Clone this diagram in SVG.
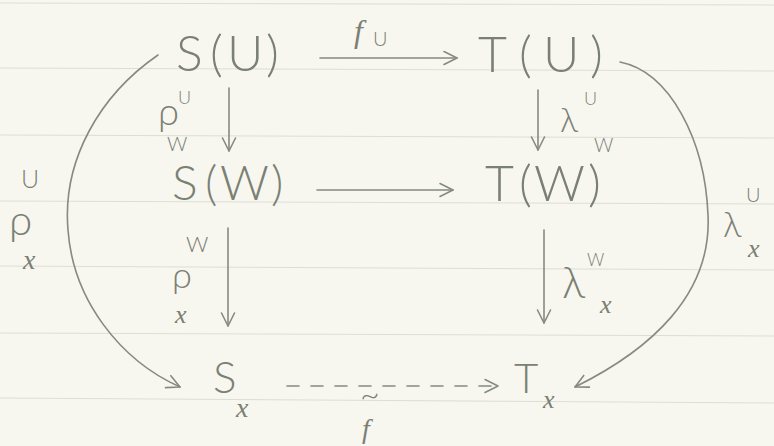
<svg xmlns="http://www.w3.org/2000/svg" width="774" height="446" viewBox="0 0 774 446">
<defs>
<style>
.ink{fill:#7b8074;font-family:"Lato","Liberation Sans",sans-serif;font-weight:300}
.it{font-family:"Liberation Serif",serif;font-style:italic;font-weight:normal}
.ln{fill:none;stroke:#868a7f;stroke-width:1.6;stroke-linecap:round}
.rule{stroke:#dcddd4;stroke-width:1}
</style>
<marker id="ah" viewBox="-14 -8 16 16" markerWidth="16" markerHeight="16" refX="0" refY="0" markerUnits="userSpaceOnUse" orient="auto">
<path d="M-13,-6.5 L0,0 L-13,6.5" fill="none" stroke="#868a7f" stroke-width="1.6" stroke-linecap="round" stroke-linejoin="round"/>
</marker>
</defs>
<rect width="774" height="446" fill="#f7f7f0"/>
<g id="paper">
<line class="rule" x1="0" y1="3" x2="774" y2="5"/>
<line class="rule" x1="0" y1="68" x2="774" y2="71"/>
<line class="rule" x1="0" y1="135" x2="774" y2="138"/>
<line class="rule" x1="0" y1="201" x2="774" y2="204"/>
<line class="rule" x1="0" y1="266" x2="774" y2="270"/>
<line class="rule" x1="0" y1="333" x2="774" y2="336"/>
<line class="rule" x1="0" y1="398" x2="774" y2="403"/>
</g>
<g id="connectors">
<path class="ln" d="M320,58 H457" marker-end="url(#ah)"/>
<path class="ln" d="M317,190 H453" marker-end="url(#ah)"/>
<path class="ln" d="M229,88 V151" marker-end="url(#ah)"/>
<path class="ln" d="M538,90 V150" marker-end="url(#ah)"/>
<path class="ln" d="M228,228 V326" marker-end="url(#ah)"/>
<path class="ln" d="M544,230 V323" marker-end="url(#ah)"/>
<path class="ln" d="M287,386 H498" stroke-dasharray="12 12" marker-end="url(#ah)"/>
<path class="ln" d="M158,55 C100,95 62,160 68,230 C73,300 120,360 180,387" marker-end="url(#ah)"/>
<path class="ln" d="M620,62 C670,72 705,140 708,215 C712,295 650,350 575,387" marker-end="url(#ah)"/>
</g>
<g id="labels">
<g id="label-fU"><text class="ink it" x="354" y="42" font-size="32">f</text><text class="ink" x="373" y="46" font-size="20">U</text></g>
<g id="label-rhoUW"><text class="ink" x="158" y="125" font-size="38">ρ</text><text class="ink" x="178" y="104" font-size="18">U</text><text class="ink" x="167" y="151" font-size="20">W</text></g>
<g id="label-lambdaUW"><text class="ink" x="560" y="132" font-size="34">λ</text><text class="ink" x="584" y="105" font-size="18">U</text><text class="ink" x="594" y="152" font-size="19">W</text></g>
<g id="label-rhoWx"><text class="ink" x="186" y="252" font-size="22">W</text><text class="ink" x="172" y="288" font-size="36">ρ</text><text class="ink it" x="175" y="323" font-size="26">x</text></g>
<g id="label-lambdaWx"><text class="ink" x="562" y="298" font-size="44">λ</text><text class="ink" x="587" y="266" font-size="17">W</text><text class="ink it" x="600" y="313" font-size="26">x</text></g>
<g id="label-rhoUx"><text class="ink" x="21" y="188" font-size="25">U</text><text class="ink" x="9" y="235" font-size="42">ρ</text><text class="ink it" x="23" y="269" font-size="28">x</text></g>
<g id="label-lambdaUx"><text class="ink" x="746" y="202" font-size="20">U</text><text class="ink" x="723" y="237" font-size="35">λ</text><text class="ink it" x="748" y="257" font-size="26">x</text></g>
<g id="label-ftilde"><text class="ink" x="360" y="406" font-size="34">~</text><text class="ink it" x="362" y="438" font-size="28">f</text></g>
</g>
<g id="node-SU"><text class="ink" font-size="50" y="71"><tspan x="176">S</tspan><tspan x="210">(</tspan><tspan x="227">U</tspan><tspan x="266">)</tspan></text></g>
<g id="node-TU"><text class="ink" font-size="50" y="72"><tspan x="478">T</tspan><tspan x="519">(</tspan><tspan x="543">U</tspan><tspan x="590">)</tspan></text></g>
<g id="node-SW"><text class="ink" font-size="48" y="200"><tspan x="172">S</tspan><tspan x="205">(</tspan><tspan x="220">W</tspan><tspan x="271">)</tspan></text></g>
<g id="node-TW"><text class="ink" font-size="50" y="201"><tspan x="485">T</tspan><tspan x="519">(</tspan><tspan x="534">W</tspan><tspan x="588">)</tspan></text></g>
<g id="node-Sx"><text class="ink" font-size="44" x="213" y="393">S</text><text class="ink it" font-size="28" x="236" y="417">x</text></g>
<g id="node-Tx"><text class="ink" font-size="42" x="514" y="393">T</text><text class="ink it" font-size="26" x="543" y="408">x</text></g>
</svg>
